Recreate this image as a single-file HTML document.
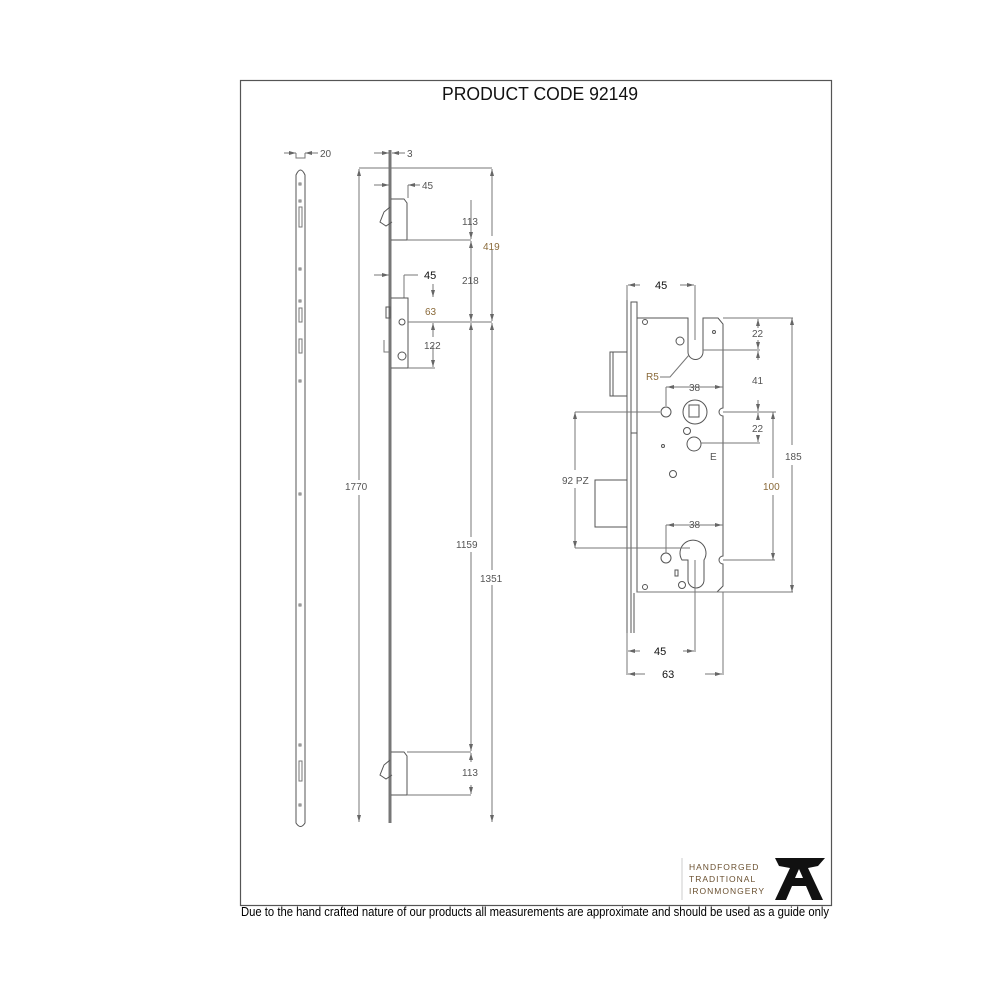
<!DOCTYPE html>
<html><head><meta charset="utf-8"><style>
html,body{margin:0;padding:0;background:#fff;}
svg{display:block;}
text{font-family:"Liberation Sans",sans-serif;}
</style></head><body>
<svg width="1000" height="1000" viewBox="0 0 1000 1000" xmlns="http://www.w3.org/2000/svg">
<defs>
<marker id="a" markerWidth="8" markerHeight="8" refX="7" refY="4" orient="auto-start-reverse" markerUnits="userSpaceOnUse"><path d="M0,2 L7,4 L0,6 z" fill="#666"/></marker>
</defs>
<rect x="240.5" y="80.5" width="591" height="825" fill="none" stroke="#555" stroke-width="1.2"/>
<text x="540" y="100" font-size="18" text-anchor="middle" fill="#111" textLength="196" lengthAdjust="spacingAndGlyphs">PRODUCT CODE 92149</text>
<text x="241" y="916" font-size="12.5" fill="#000" textLength="588" lengthAdjust="spacingAndGlyphs">Due to the hand crafted nature of our products all measurements are approximate and should be used as a guide only</text>

<g fill="none" stroke="#777" stroke-width="1">
<!-- left strip -->
<path d="M296,823 L296,175 Q300.5,165 305,175 L305,823 Q300.5,830 296,823 Z" stroke="#555"/>
<line x1="284" y1="153" x2="296" y2="153" marker-end="url(#a)"/>
<line x1="318" y1="153" x2="305" y2="153" marker-end="url(#a)"/>
<path d="M296,153 L296,158 L305,158 L305,153"/>
<rect x="299" y="183" width="2" height="2"/><rect x="299" y="200" width="2" height="2"/>
<rect x="299" y="207" width="3" height="20"/><rect x="299" y="268" width="2" height="2"/>
<rect x="299" y="300" width="2" height="2"/><rect x="299" y="308" width="3" height="14"/>
<rect x="299" y="339" width="3" height="14"/><rect x="299" y="380" width="2" height="2"/>
<rect x="299" y="493" width="2" height="2"/><rect x="299" y="604" width="2" height="2"/>
<rect x="299" y="744" width="2" height="2"/><rect x="299" y="761" width="3" height="20"/>
<rect x="299" y="804" width="2" height="2"/>

<!-- middle bar -->
<line x1="390" y1="150" x2="390" y2="823" stroke="#777" stroke-width="3"/>
<line x1="374" y1="153" x2="389" y2="153" marker-end="url(#a)"/>
<line x1="405" y1="153" x2="392" y2="153" marker-end="url(#a)"/>
<line x1="374" y1="185" x2="389" y2="185" marker-end="url(#a)"/>
<line x1="420" y1="185" x2="408" y2="185" marker-end="url(#a)"/>
<line x1="408" y1="185" x2="408" y2="198"/>
<!-- top case -->
<path d="M391,199 L404,199 L407,203 L407,240 L391,240" stroke="#555"/>
<path d="M390,207 L384,212 L380,222 L386,226 L392,222" stroke="#555"/>
<line x1="407" y1="240" x2="471" y2="240"/>
<!-- mid case -->
<line x1="374" y1="275" x2="389" y2="275" marker-end="url(#a)"/>
<line x1="418" y1="275" x2="404" y2="275"/>
<line x1="404" y1="275" x2="404" y2="298"/>
<path d="M391,298 L408,298 L408,368 L391,368" stroke="#555"/>
<rect x="386" y="307" width="4" height="11" stroke="#555"/>
<circle cx="402" cy="322" r="3" stroke="#555"/><circle cx="402" cy="356" r="4" stroke="#555"/>
<path d="M384,340 L384,352 L390,352"/>
<line x1="408" y1="322" x2="492" y2="322"/>
<line x1="433" y1="284" x2="433" y2="297" marker-end="url(#a)"/>
<line x1="433" y1="337" x2="433" y2="323" marker-end="url(#a)"/>
<line x1="433" y1="345" x2="433" y2="367" marker-end="url(#a)"/>
<line x1="408" y1="368" x2="435" y2="368"/>
<!-- bottom case -->
<path d="M391,752 L404,752 L407,756 L407,795 L391,795" stroke="#555"/>
<path d="M390,760 L384,765 L380,775 L386,779 L392,775" stroke="#555"/>
<line x1="407" y1="752" x2="471" y2="752"/>
<line x1="407" y1="795" x2="471" y2="795"/>
<!-- dims -->
<line x1="359" y1="168" x2="492" y2="168"/>
<line x1="359" y1="180" x2="359" y2="169" marker-end="url(#a)"/>
<line x1="359" y1="480" x2="359" y2="180"/><line x1="359" y1="495" x2="359" y2="822" marker-end="url(#a)"/>
<line x1="492" y1="180" x2="492" y2="169" marker-end="url(#a)"/>
<line x1="492" y1="236" x2="492" y2="180"/>
<line x1="492" y1="250" x2="492" y2="321" marker-end="url(#a)"/>
<line x1="492" y1="330" x2="492" y2="323" marker-end="url(#a)"/>
<line x1="492" y1="330" x2="492" y2="570"/><line x1="492" y1="585" x2="492" y2="822" marker-end="url(#a)"/>
<line x1="471" y1="200" x2="471" y2="239" marker-end="url(#a)"/>
<line x1="471" y1="250" x2="471" y2="241" marker-end="url(#a)"/>
<line x1="471" y1="250" x2="471" y2="321" marker-end="url(#a)"/>
<line x1="471" y1="330" x2="471" y2="323" marker-end="url(#a)"/>
<line x1="471" y1="330" x2="471" y2="537"/><line x1="471" y1="552" x2="471" y2="751" marker-end="url(#a)"/>
<line x1="471" y1="762" x2="471" y2="753" marker-end="url(#a)"/>
<line x1="471" y1="785" x2="471" y2="794" marker-end="url(#a)"/>
<line x1="390" y1="823" x2="390" y2="823"/>
</g>
<g font-size="10" fill="#555">
<text x="320" y="157">20</text><text x="407" y="157">3</text>
<text x="422" y="189">45</text>
<text x="424" y="279" fill="#111" font-size="11">45</text>
<text x="425" y="315" fill="#8a6a3a">63</text>
<text x="462" y="225">113</text><text x="483" y="250" fill="#8a6a3a">419</text>
<text x="462" y="284">218</text><text x="424" y="349">122</text>
<text x="345" y="490">1770</text><text x="456" y="548">1159</text><text x="480" y="582">1351</text>
<text x="462" y="776">113</text>
</g>

<!-- right detail -->
<g fill="none" stroke="#555" stroke-width="1">
<line x1="627" y1="300" x2="627" y2="633"/>
<rect x="631" y="302" width="6" height="131"/>
<line x1="631" y1="433" x2="631" y2="633"/><line x1="634" y1="593" x2="634" y2="633"/>
<path d="M637,318 L688,318 L688,352 A7.5,7.5 0 0 0 703,352 L703,318 L718,318 L723,324 L723,408 A4,4 0 0 0 723,416 L723,556 A4,4 0 0 0 723,564 L723,586 L717,592 L637,592 Z"/>
<rect x="610" y="352" width="17" height="44"/><line x1="613" y1="352" x2="613" y2="396"/>
<rect x="595" y="480" width="32" height="47"/>
<circle cx="695" cy="412" r="12"/><rect x="689" y="405" width="10" height="12"/>
<circle cx="666" cy="412" r="5"/><circle cx="694" cy="444" r="7"/><circle cx="687" cy="431" r="3.5"/>
<circle cx="680" cy="341" r="4"/><circle cx="645" cy="322" r="2.5"/><circle cx="714" cy="332" r="1.5"/>
<circle cx="663" cy="446" r="1.5"/><circle cx="673" cy="474" r="3.5"/>
<path d="M684,560 A13,13 0 1 1 706,560 L706,580 A5,5 0 0 1 690,580 L690,560 Z" transform="translate(-2,0)"/>
<circle cx="666" cy="558" r="5"/><circle cx="682" cy="585" r="3.5"/><circle cx="645" cy="587" r="2.5"/>
<rect x="675" y="570" width="3" height="6"/>
</g>
<g fill="none" stroke="#777" stroke-width="1">
<line x1="627" y1="285" x2="627" y2="300"/><line x1="695" y1="285" x2="695" y2="340"/>
<line x1="640" y1="285" x2="628" y2="285" marker-end="url(#a)"/><line x1="680" y1="285" x2="694" y2="285" marker-end="url(#a)"/>
<line x1="723" y1="318" x2="793" y2="318"/><line x1="703" y1="350" x2="760" y2="350"/>
<line x1="723" y1="412" x2="776" y2="412"/><line x1="575" y1="412" x2="660" y2="412"/>
<line x1="701" y1="443" x2="760" y2="443"/><line x1="575" y1="548" x2="690" y2="548"/>
<line x1="723" y1="560" x2="775" y2="560"/><line x1="637" y1="592" x2="793" y2="592"/>
<line x1="758" y1="328" x2="758" y2="319" marker-end="url(#a)"/><line x1="758" y1="340" x2="758" y2="349" marker-end="url(#a)"/>
<line x1="758" y1="360" x2="758" y2="351" marker-end="url(#a)"/><line x1="758" y1="400" x2="758" y2="411" marker-end="url(#a)"/>
<line x1="758" y1="420" x2="758" y2="413" marker-end="url(#a)"/><line x1="758" y1="435" x2="758" y2="442" marker-end="url(#a)"/>
<line x1="792" y1="318" x2="792" y2="445" marker-start="url(#a)"/><line x1="792" y1="465" x2="792" y2="592" marker-end="url(#a)"/>
<line x1="773" y1="412" x2="773" y2="478" marker-start="url(#a)"/><line x1="773" y1="495" x2="773" y2="560" marker-end="url(#a)"/>
<line x1="575" y1="412" x2="575" y2="470" marker-start="url(#a)"/><line x1="575" y1="488" x2="575" y2="548" marker-end="url(#a)"/>
<line x1="666" y1="387" x2="666" y2="406"/><line x1="666" y1="387" x2="723" y2="387"/>
<line x1="676" y1="387" x2="667" y2="387" marker-end="url(#a)"/><line x1="714" y1="387" x2="722" y2="387" marker-end="url(#a)"/>
<line x1="666" y1="525" x2="666" y2="553"/><line x1="666" y1="525" x2="723" y2="525"/>
<line x1="678" y1="525" x2="667" y2="525" marker-end="url(#a)"/><line x1="712" y1="525" x2="722" y2="525" marker-end="url(#a)"/>
<path d="M660,377 L670,377 L689,355"/>
<line x1="627" y1="633" x2="627" y2="675"/><line x1="695" y1="560" x2="695" y2="652"/><line x1="723" y1="592" x2="723" y2="675"/>
<line x1="640" y1="651" x2="628" y2="651" marker-end="url(#a)"/><line x1="683" y1="651" x2="694" y2="651" marker-end="url(#a)"/>
<line x1="645" y1="674" x2="628" y2="674" marker-end="url(#a)"/><line x1="705" y1="674" x2="722" y2="674" marker-end="url(#a)"/>
</g>
<g font-size="10" fill="#555">
<text x="655" y="289" fill="#111" font-size="11">45</text>
<text x="752" y="337">22</text><text x="752" y="384">41</text><text x="752" y="432">22</text>
<text x="646" y="380" fill="#8a6a3a">R5</text><text x="689" y="391">38</text>
<text x="710" y="460">E</text><text x="785" y="460">185</text><text x="763" y="490" fill="#8a6a3a">100</text>
<text x="562" y="484">92 PZ</text><text x="689" y="528">38</text>
<text x="654" y="655" fill="#111" font-size="11">45</text><text x="662" y="678" fill="#111" font-size="11">63</text>
</g>

<!-- logo -->
<line x1="682" y1="858" x2="682" y2="900" stroke="#ccc"/>
<g font-family="Liberation Serif,serif" font-size="8.5" fill="#6a5030" letter-spacing="1">
<text x="689" y="870">HANDFORGED</text><text x="689" y="882">TRADITIONAL</text><text x="689" y="894">IRONMONGERY</text>
</g>
<path d="M775,858 L825,858 L818,866 L808,868 L823,900 L812,900 L806,886 L792,886 L786,900 L775,900 L790,868 L779,866 Z M795,878 L803,878 L799,869 Z" fill="#111" fill-rule="evenodd"/>
</svg>
</body></html>
